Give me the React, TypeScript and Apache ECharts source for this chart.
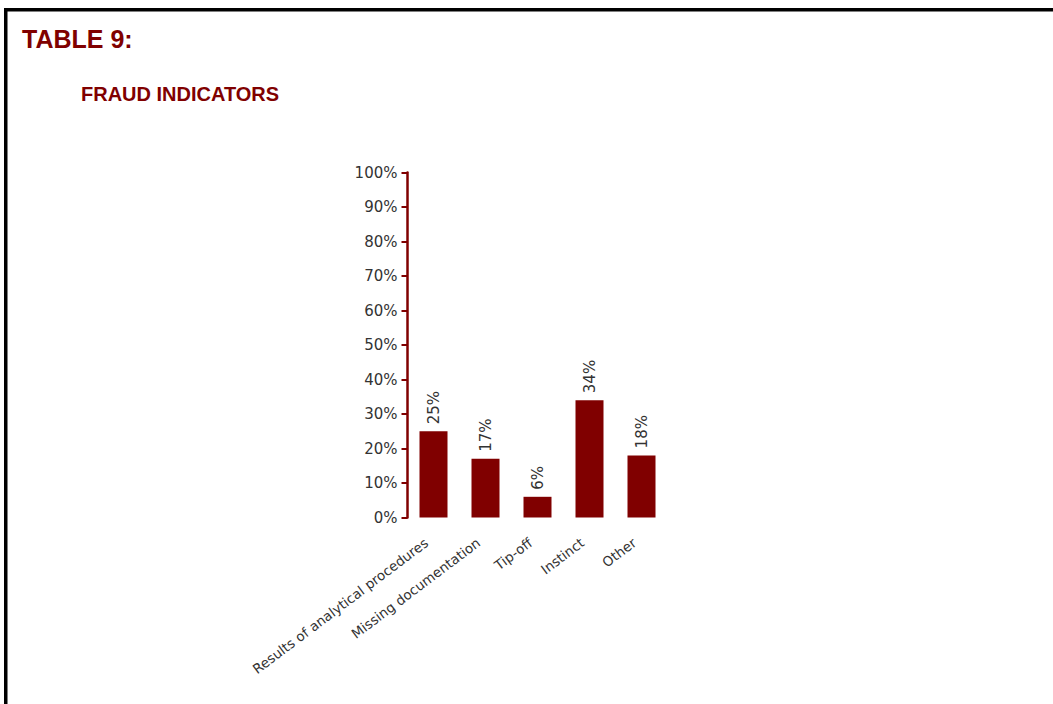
import React, { useEffect, useRef } from "react";
import * as echarts from "echarts";

const categories = [
  "Results of analytical procedures",
  "Missing documentation",
  "Tip-off",
  "Instinct",
  "Other",
];
const values = [25, 17, 6, 34, 18];
const yTicks = { min: 0, max: 100, interval: 10 };
const titleText = "TABLE 9:";
const subtitleText = "FRAUD INDICATORS";

const RED = "#800000";
const TEXT = "#333333";

export default function App() {
  const ref = useRef<HTMLDivElement>(null);
  useEffect(() => {
    if (!ref.current) return;
    const chart = echarts.init(ref.current, undefined, { renderer: "svg" });
    chart.setOption({
      animation: false,
      backgroundColor: "#ffffff",
      title: [
        {
          text: titleText,
          left: 22,
          top: 26,
          padding: 0,
          textStyle: {
            color: RED,
            fontFamily: "'Liberation Sans', Arial, sans-serif",
            fontWeight: "bold",
            fontSize: 25,
          },
        },
        {
          text: subtitleText,
          left: 81,
          top: 84,
          padding: 0,
          textStyle: {
            color: RED,
            fontFamily: "'Liberation Sans', Arial, sans-serif",
            fontWeight: "bold",
            fontSize: 20,
          },
        },
      ],
      graphic: [
        { type: "rect", shape: { x: 4, y: 8, width: 1049, height: 3.5 }, style: { fill: "#000" } },
        { type: "rect", shape: { x: 4, y: 8, width: 3.5, height: 696 }, style: { fill: "#000" } },
      ],
      grid: { left: 407.5, top: 172.5, width: 260, height: 345, containLabel: false },
      xAxis: {
        type: "category",
        data: categories,
        axisLine: { show: false },
        axisTick: { show: false },
        axisLabel: {
          rotate: 37,
          interval: 0,
          margin: 18,
          padding: [0, 9, 0, 0],
          color: TEXT,
          fontFamily: "'DejaVu Sans', sans-serif",
          fontSize: 13.5,
        },
      },
      yAxis: {
        type: "value",
        min: yTicks.min,
        max: yTicks.max,
        interval: yTicks.interval,
        splitLine: { show: false },
        axisLine: { show: true, lineStyle: { color: RED, width: 2.5 } },
        axisTick: { show: true, length: 6, lineStyle: { color: RED, width: 2 } },
        axisLabel: {
          formatter: "{value}%",
          margin: 10,
          color: TEXT,
          fontFamily: "'DejaVu Sans', sans-serif",
          fontSize: 15,
        },
      },
      series: [
        {
          type: "bar",
          data: values,
          barWidth: 28,
          itemStyle: { color: RED },
          label: {
            show: true,
            position: "top",
            rotate: 90,
            align: "left",
            verticalAlign: "middle",
            distance: 7,
            formatter: "{c}%",
            color: TEXT,
            fontFamily: "'DejaVu Sans', sans-serif",
            fontSize: 15,
          },
        },
      ],
    });
    return () => chart.dispose();
  }, []);
  return (
    <div
      ref={ref}
      style={{ position: "fixed", left: 0, top: 0, width: 1053, height: 704 }}
    />
  );
}
